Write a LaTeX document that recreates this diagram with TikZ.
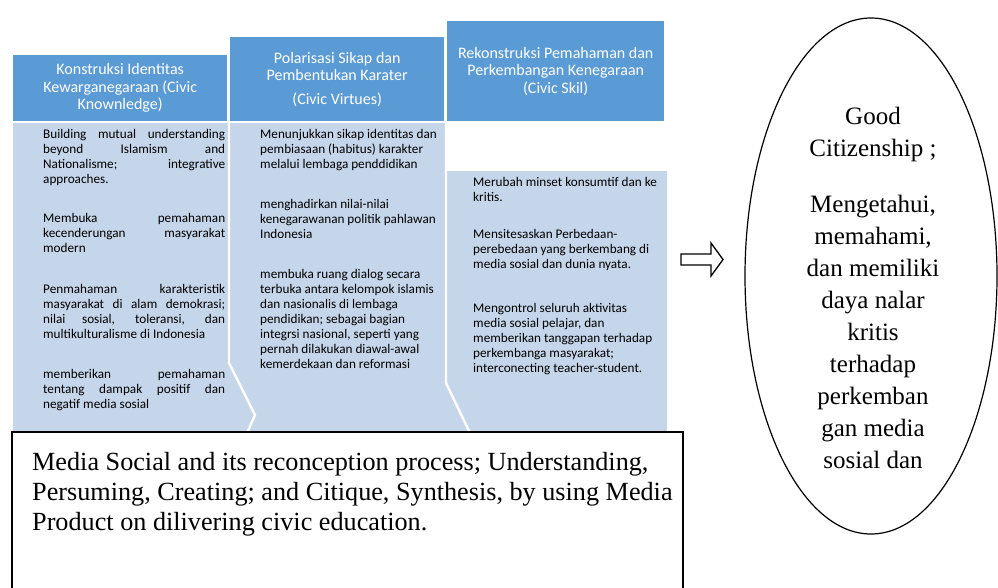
\documentclass[tikz,border=0pt]{standalone}
\usepackage{fontspec}
\setmainfont{Liberation Serif}
\newfontfamily\calib{Carlito}
\definecolor{hdrblue}{RGB}{91,155,213}
\definecolor{bodyblue}{RGB}{197,213,234}
\begin{document}
\begin{tikzpicture}[x=1pt,y=-1pt,
  hdr/.style={fill=hdrblue, draw=none, text=white, anchor=north west, inner sep=0pt,
    align=center, font=\calib\fontsize{16}{17.5}\selectfont},
  bodytxt/.style={anchor=north west, inner sep=0pt, align=left,
    font=\calib\fontsize{13.2}{15}\selectfont},
  justtxt/.style={anchor=north west, inner sep=0pt, text width=182pt, align=justify,
    font=\calib\fontsize{13.2}{15}\selectfont},
  sep/.style={white, line width=2.4pt},
  serif/.style={font=\fontsize{26.2}{30}\selectfont}]
\useasboundingbox (0,0) rectangle (998,587);

% light body band behind the three columns
\fill[bodyblue] (13,123) -- (445,123) -- (445,171) -- (667,171) -- (667,432) -- (13,432) -- cycle;
% white separators between the column bodies
\draw[sep] (229,122) -- (229,363) -- (255,415) -- (247,433);
\draw[sep] (446,122) -- (446,383) -- (470,433);

% column headers
\node[hdr, minimum width=214pt, minimum height=66pt] (h1) at (13,55)
  {Konstruksi Identitas\\Kewarganegaraan (Civic\\Knownledge)};
\node[hdr, minimum width=214pt, minimum height=84pt] (h2) at (230,37)
  {Polarisasi Sikap dan\\Pembentukan Karater\\[6pt](Civic Virtues)};
\node[hdr, minimum width=217pt, minimum height=100pt] (h3) at (447,21)
  {Rekonstruksi Pemahaman dan\\Perkembangan Kenegaraan\\(Civic Skil)};

% column 1 items
\node[justtxt] (a1) at (43,129) {Building mutual understanding\linebreak beyond Islamism and\linebreak Nationalisme; integrative\linebreak approaches.};
\node[justtxt] (a2) at (43,213) {Membuka pemahaman\linebreak kecenderungan masyarakat\linebreak modern};
\node[justtxt] (a3) at (43,284) {Penmahaman karakteristik\linebreak masyarakat di alam demokrasi;\linebreak nilai sosial, toleransi, dan\linebreak multikulturalisme di Indonesia};
\node[justtxt] (a4) at (43,369) {memberikan pemahaman\linebreak tentang dampak positif dan\linebreak negatif media sosial};

% column 2 items
\node[bodytxt] (b1) at (260,129) {Menunjukkan sikap identitas dan\\pembiasaan (habitus) karakter\\melalui lembaga penddidikan};
\node[bodytxt] (b2) at (260,199) {menghadirkan nilai-nilai\\kenegarawanan politik pahlawan\\Indonesia};
\node[bodytxt] (b3) at (260,269) {membuka ruang dialog secara\\terbuka antara kelompok islamis\\dan nasionalis di lembaga\\pendidikan; sebagai bagian\\integrsi nasional, seperti yang\\pernah dilakukan diawal-awal\\kemerdekaan dan reformasi};

% column 3 items
\node[bodytxt] (c1) at (473,177) {Merubah minset konsumtif dan ke\\kritis.};
\node[bodytxt] (c2) at (473,229) {Mensitesaskan Perbedaan-\\perebedaan yang berkembang di\\media sosial dan dunia nyata.};
\node[bodytxt] (c3) at (473,303) {Mengontrol seluruh aktivitas\\media sosial pelajar, dan\\memberikan tanggapan terhadap\\perkembanga masyarakat;\\interconecting teacher-student.};

% bottom frame
\node[draw, fill=white, line width=1.6pt, anchor=north west, minimum width=671pt,
  minimum height=180pt, inner sep=0pt] (base) at (11,431) {};
\node[serif, anchor=north west, inner sep=0pt, align=left] (basetxt) at (32,452)
  {Media Social and its reconception process; Understanding,\\
   Persuming, Creating; and Citique, Synthesis, by using Media\\
   Product on dilivering civic education.};

% outlined arrow
\draw[line width=1.3pt, line join=miter] (681,254) -- (711,254) -- (711,243) -- (723,259.5)
  -- (711,276) -- (711,265) -- (681,265) -- cycle;

% outcome ellipse
\coordinate (goal) at (871,276);
\draw[line width=1.2pt] (goal) ellipse [x radius=126pt, y radius=258pt];
\node[align=center, anchor=north, inner sep=0pt, font=\fontsize{25}{32}\selectfont]
  (goaltxt) at (873,107)
  {Good\\Citizenship ;\\[24pt]Mengetahui,\\memahami,\\dan memiliki\\daya nalar\\kritis\\terhadap\\perkemban\\gan media\\sosial dan};
\end{tikzpicture}
\end{document}
